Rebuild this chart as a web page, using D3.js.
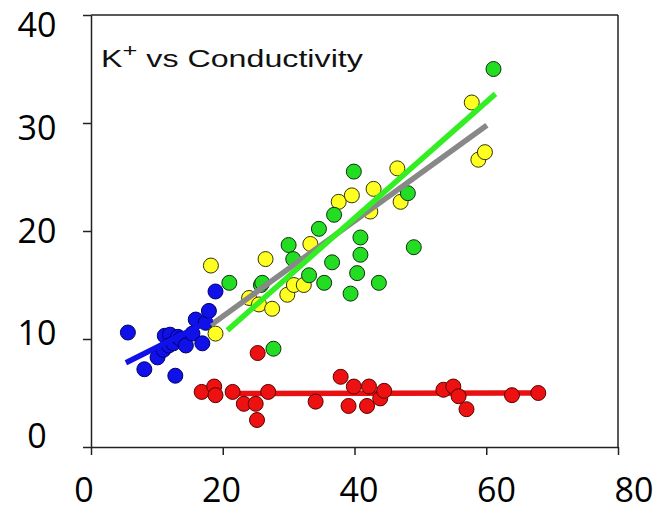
<!DOCTYPE html>
<html>
<head>
<meta charset="utf-8">
<script src="https://cdn.jsdelivr.net/npm/d3@7/dist/d3.min.js"></script>
<style>
  body { margin: 0; background: #fff; }
  .tick line, .domain { stroke: #222; stroke-width: 1.5px; }
</style>
</head>
<body>
<div id="chart-area"></div>
<script>
// data: [conductivity, K+]
var bluePts = [[5.6,10.6],[8.1,7.2],[10.1,8.3],[11.0,9.0],[11.2,10.3],[12.0,10.4],[11.8,9.4],[12.5,9.6],
  [12.8,6.6],[13.2,10.2],[13.6,10.0],[14.4,9.4],[15.4,10.5],[15.9,11.8],[16.9,9.6],[17.4,11.5],[17.9,12.6],[18.9,14.4]]
var yellowPts = [[18.2,16.8],[18.9,10.5],[24.0,13.8],[25.5,13.2],[26.5,17.4],[27.5,12.8],[29.8,14.1],[30.8,15.0],
  [32.3,15.0],[33.3,18.8],[37.6,22.7],[39.6,23.3],[42.4,21.8],[42.9,23.9],[46.5,25.8],[47.0,22.7],[57.8,31.9],[58.8,26.6],[59.8,27.3]]
var greenPts = [[21.0,15.2],[25.8,15.0],[26.0,15.2],[27.7,9.1],[30.0,18.7],[30.7,17.4],[33.1,15.9],[34.6,20.2],[35.4,15.2],
  [36.6,17.1],[36.9,21.5],[39.4,14.2],[39.9,25.5],[40.4,16.1],[40.9,17.8],[40.9,19.4],[43.7,15.2],[48.1,23.5],[49.0,18.5],[61.1,35.0]]
var redPts = [[16.8,5.1],[18.7,5.6],[18.9,4.8],[21.5,5.1],[23.2,4.0],[25.0,4.0],[25.2,2.5],[25.3,8.7],[26.9,5.1],
  [34.1,4.2],[37.9,6.5],[39.1,3.8],[39.9,5.6],[41.9,3.8],[42.2,5.6],[43.9,4.5],[44.5,5.2],[53.5,5.3],[55.0,5.6],
  [55.8,4.7],[57.0,3.5],[63.9,4.8],[67.9,5.0]]

// fitted lines (end points)
var blueFit = [[5.3,7.8],[18.4,11.8]]
var grayFit = [[18.2,11.3],[60.1,29.8]]
var greenFit = [[20.7,10.8],[61.4,32.7]]
var redFit = [[21.2,4.95],[67.9,5.0]]

var xTicks = [0, 20, 40, 60, 80]
var yTicks = [0, 10, 20, 30, 40]

var W = 664, H = 512

svg = d3.select('#chart-area').append('svg')
  .attr('width', W)
  .attr('height', H)
  .style('font-family', '"Open Sans", Lato, sans-serif')

//scales
var xScale = d3.scaleLinear().domain([0, 80]).range([91, 618])
var yScale = d3.scaleLinear().domain([0, 40]).range([447, 15])

// the tick labels in the picture sit a little off the ticks
var xLabelScale = d3.scaleLinear().domain([0, 80]).range([84, 634])
var yLabelScale = d3.scaleLinear().domain([0, 40]).range([436, 25])

//axes (ticks only, labels drawn separately)
svg.append('g')
  .attr('transform', 'translate(0,' + yScale(0) + ')')
  .call(d3.axisBottom(xScale).tickValues(xTicks).tickSize(8).tickSizeOuter(0).tickFormat(''))

svg.append('g')
  .attr('transform', 'translate(' + xScale(0) + ',0)')
  .call(d3.axisLeft(yScale).tickValues(yTicks).tickSize(8).tickSizeOuter(0).tickFormat(''))

// top and right frame
svg.append('line')
  .attr('x1', xScale(0)).attr('x2', xScale(80))
  .attr('y1', yScale(40)).attr('y2', yScale(40))
  .attr('stroke', '#222').attr('stroke-width', 1.5)
svg.append('line')
  .attr('x1', xScale(80)).attr('x2', xScale(80))
  .attr('y1', yScale(40)).attr('y2', yScale(0))
  .attr('stroke', '#222').attr('stroke-width', 1.5)

//tick labels
svg.selectAll('.xlab')
  .data(xTicks)
  .enter()
  .append('text')
  .attr('class', 'xlab')
  .attr('x', function(d){ return xLabelScale(d) })
  .attr('y', 502)
  .attr('text-anchor', 'middle')
  .attr('font-size', '34px')
  .attr('fill', '#000')
  .text(function(d){ return d })

svg.selectAll('.ylab')
  .data(yTicks)
  .enter()
  .append('text')
  .attr('class', 'ylab')
  .attr('x', 37)
  .attr('y', function(d){ return yLabelScale(d) + 12 })
  .attr('text-anchor', 'middle')
  .attr('font-size', '34px')
  .attr('fill', '#000')
  .text(function(d){ return d })

//title, stretched to the width it has in the picture
var title = svg.append('text')
  .attr('font-family', '"Liberation Sans", Arial, sans-serif')
  .attr('font-size', '24px')
  .attr('fill', '#111')
title.append('tspan').text('K')
title.append('tspan').attr('font-size', '19px').attr('dy', -10).text('+')
title.append('tspan').attr('dy', 10).text(' vs Conductivity')
var tw = title.node().getBBox().width
title.attr('transform', 'translate(101,67) scale(' + (262 / tw) + ',1)')

var line = d3.line()
  .x(function(d){ return xScale(d[0]) })
  .y(function(d){ return yScale(d[1]) })

function drawFit(pts, color){
  svg.append('path')
    .attr('d', line(pts))
    .attr('fill', 'none')
    .attr('stroke', color)
    .attr('stroke-width', 5.5)
}

function drawDots(pts, fill, stroke){
  svg.append('g').selectAll('circle')
    .data(pts)
    .enter()
    .append('circle')
    .attr('cx', function(d){ return xScale(d[0]) })
    .attr('cy', function(d){ return yScale(d[1]) })
    .attr('r', 7.5)
    .attr('fill', fill)
    .attr('stroke', stroke)
    .attr('stroke-width', 1)
}

drawFit(redFit, '#e81010')
drawDots(redPts, '#ee1111', '#5a0000')

drawDots(bluePts, '#1010e8', '#00006a')
drawDots(yellowPts, '#ffff22', '#333300')
drawDots(greenPts, '#22dd22', '#103010')

drawFit(grayFit, '#888888')
drawFit(greenFit, '#33ee22')
drawFit(blueFit, '#1010e8')
</script>
</body>
</html>
